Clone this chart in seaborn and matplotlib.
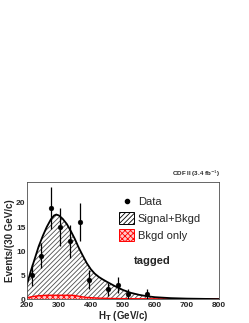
import numpy as np
import pandas as pd
import matplotlib
matplotlib.use("Agg")
import matplotlib.pyplot as plt
import seaborn as sns
from matplotlib.patches import Patch
from matplotlib.lines import Line2D

# Data
data_x = [215, 245, 275, 305, 335, 365, 395, 455, 485, 515, 575]
data_y = [5, 9, 19, 15, 12, 16, 4, 2, 3, 1, 1]
data_err = [2.3, 2.6, 4.4, 3.9, 3.5, 4.0, 2.0, 1.4, 1.7, 1.0, 1.0]

curve_x = [200, 212, 225, 237, 250, 262, 275, 285, 292, 300, 312, 325, 337, 350, 362,
           375, 387, 400, 412, 425, 437, 450, 475, 500, 525, 550, 575, 600, 650, 700, 750, 800]
sig_y = [3.0, 5.8, 8.5, 11.0, 13.2, 15.0, 16.6, 17.4, 17.6, 17.4, 16.7, 15.6, 14.2, 12.5, 10.7,
         9.0, 7.5, 6.2, 5.3, 4.6, 4.1, 3.6, 2.7, 1.9, 1.3, 0.9, 0.6, 0.4, 0.2, 0.1, 0.05, 0.0]
bkg_y = [0.3, 0.45, 0.6, 0.7, 0.75, 0.8, 0.8, 0.8, 0.8, 0.8, 0.8, 0.8, 0.8, 0.75, 0.6,
         0.45, 0.35, 0.3, 0.25, 0.2, 0.18, 0.15, 0.12, 0.1, 0.08, 0.07, 0.06, 0.05, 0.05, 0.05, 0.05, 0.05]

x_ticks = [200, 300, 400, 500, 600, 700, 800]
y_ticks = [0, 5, 10, 15, 20]

sns.set_style("white")
plt.rcParams['font.family'] = ['Liberation Sans', 'DejaVu Sans']
plt.rcParams['hatch.linewidth'] = 0.6

df_curve = pd.DataFrame({"x": curve_x, "sig": sig_y, "bkg": bkg_y})
df_data = pd.DataFrame({"x": data_x, "y": data_y, "err": data_err})

fig = plt.figure(figsize=(2.49, 3.23), dpi=100)
ax = fig.add_axes([0.108, 0.074, 0.771, 0.363])

ax.fill_between(df_curve["x"], 0, df_curve["sig"], facecolor="white", edgecolor="0.3",
                hatch="///////", linewidth=0)
ax.fill_between(df_curve["x"], 0, df_curve["bkg"], facecolor="#ffc8c8", edgecolor="red",
                hatch="xxxxxx", linewidth=0)
sns.lineplot(data=df_curve, x="x", y="bkg", color="red", linewidth=1.0, ax=ax, sort=False)
sns.lineplot(data=df_curve, x="x", y="sig", color="black", linewidth=1.3, ax=ax, sort=False)

ax.errorbar(df_data["x"], df_data["y"], yerr=df_data["err"], fmt="none", ecolor="black",
            elinewidth=0.9, capsize=0)
sns.scatterplot(data=df_data, x="x", y="y", color="black", s=12, edgecolor="black", ax=ax, zorder=5)

ax.set_xlim(200, 800)
ax.set_ylim(0, 24.4)
ax.set_xticks(x_ticks)
ax.set_yticks(y_ticks)
ax.set_xticklabels([str(v) for v in x_ticks], fontsize=6, fontweight="bold")
ax.set_yticklabels([str(v) for v in y_ticks], fontsize=6, fontweight="bold")
ax.minorticks_on()
ax.tick_params(which="both", direction="in", top=False, right=False)
ax.tick_params(axis="x", which="both", pad=2)
ax.tick_params(axis="y", which="both", pad=1)
ax.tick_params(which="major", length=4, width=0.6)
ax.tick_params(which="minor", length=2, width=0.5)
for sp in ax.spines.values():
    sp.set_linewidth(0.6)
    sp.set_color("0.3")

ax.set_xlabel("H$_\\mathbf{T}$ (GeV/c)", fontsize=7, fontweight="bold", labelpad=0)
ax.set_ylabel("Events/(30 GeV/c)", fontsize=7, fontweight="bold", labelpad=1)

handles = [
    Line2D([0], [0], marker="o", color="black", linestyle="none", markersize=3),
    Patch(facecolor="white", edgecolor="black", hatch="///////", linewidth=0.7),
    Patch(facecolor="#ffc8c8", edgecolor="red", hatch="xxxxxx", linewidth=0.7),
]
labels = ["Data", "Signal+Bkgd", "Bkgd only"]
ax.legend(handles, labels, loc="upper left", bbox_to_anchor=(0.45, 0.93), frameon=False,
          fontsize=8, handlelength=1.4, handleheight=1.3, handletextpad=0.3,
          labelspacing=0.4, borderpad=0)

ax.text(0.555, 0.325, "tagged", transform=ax.transAxes, fontsize=8, fontweight="bold",
        va="center", ha="left")
ax.text(1.01, 1.025, "CDF II (3.4 fb$^{-1}$)", transform=ax.transAxes, fontsize=4.5,
        fontweight="bold", ha="right", va="bottom")

fig.savefig("out.png", dpi=100)
